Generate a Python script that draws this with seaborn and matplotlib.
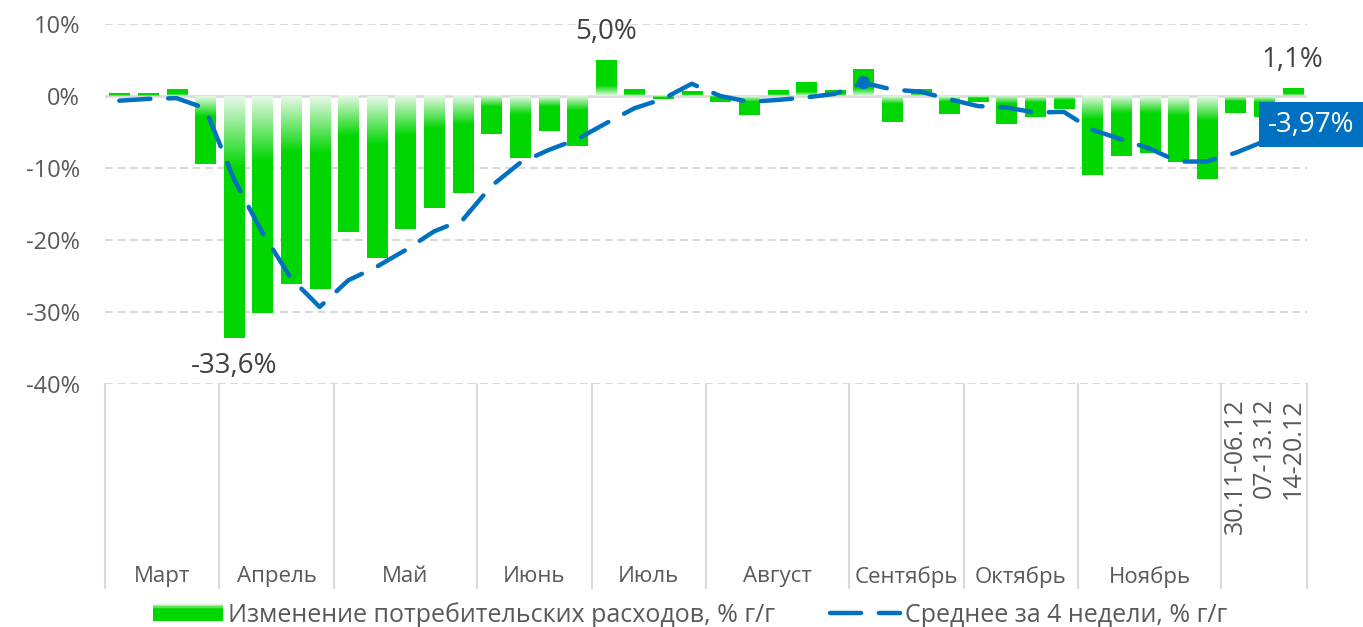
import numpy as np
import pandas as pd
import matplotlib
matplotlib.use("Agg")
import matplotlib.pyplot as plt
import matplotlib.transforms as mtransforms
from matplotlib.patches import Rectangle
from matplotlib.lines import Line2D
from matplotlib.legend_handler import HandlerBase
import seaborn as sns

# weekly change of consumer spending, % y/y
spend = [0.4, 0.3, 0.9, -9.4,
         -33.6, -30.1, -26.1, -26.8,
         -18.9, -22.5, -18.5, -15.6, -13.5,
         -5.3, -8.6, -4.8, -7.0,
         5.0, 0.9, -0.4, 0.6,
         -0.9, -2.6, 0.8, 1.9, 0.8,
         3.7, -3.6, 0.9, -2.5,
         -0.8, -3.9, -2.9, -1.8,
         -11.0, -8.4, -7.9, -9.1, -11.5,
         -2.3, -2.9, 1.1]
# 4-week average
avg4 = [-0.65, -0.4, -0.3, -1.7,
        -11.5, -19.0, -25.3, -29.3,
        -25.6, -23.7, -21.4, -18.8, -17.2,
        -12.5, -9.3, -7.5, -6.0,
        -3.8, -1.7, -0.4, 1.7,
        0.0, -0.8, -0.55, -0.2, 0.3,
        1.85, 0.9, 0.6, -0.45,
        -1.4, -1.6, -2.3, -2.2,
        -4.7, -6.0, -7.3, -9.1, -9.1,
        -7.9, -6.3, -3.97]
months = ["Март", "Апрель", "Май", "Июнь", "Июль", "Август",
          "Сентябрь", "Октябрь", "Ноябрь", ""]
weeks_in_month = [4, 4, 5, 4, 4, 5, 4, 4, 5, 3]
last_weeks = ["30.11-06.12", "07-13.12", "14-20.12"]
labelled = {4: "-33,6%", 17: "5,0%", 41: "1,1%"}
marked = 26

green = np.array([0.0, 0.84, 0.0])
pale = np.array([0.91, 0.975, 0.91])
blue = "#0070C0"
grey_txt = "#595959"
grid_c = "#D9D9D9"

sns.set_style("white")
plt.rcParams["font.family"] = ["Open Sans", "DejaVu Sans"]

idx = np.arange(len(spend))
df = pd.DataFrame({"week": idx, "spend": spend, "avg": avg4})

fig = plt.figure(figsize=(13.63, 6.27), dpi=100)
ax = fig.add_axes([105 / 1363, 243 / 627, 1202 / 1363, 360 / 627])

# grid
for v in [10, -10, -20, -30, -40]:
    ax.axhline(v, color=grid_c, lw=1.5, ls=(0, (3.8, 2.2)), zorder=0)
ax.axhline(0, color=grid_c, lw=1.8, zorder=1)

sns.barplot(data=df, x="week", y="spend", color="#00D600", saturation=1,
            width=0.7, ax=ax, zorder=2)

# gradient fill, pale near zero
for p in ax.patches:
    x0, y0 = p.get_x(), p.get_y()
    w, h = p.get_width(), p.get_height()
    s = np.linspace(0, 1, 200)
    t = np.clip(s / 0.3, 0, 1)
    cols = pale[None, :] + (green - pale)[None, :] * t[:, None]
    if h < 0:
        img = cols[:, None, :]           # row 0 at top (zero)
        ext = (x0, x0 + w, y0 + h, y0)
    else:
        img = cols[::-1][:, None, :]     # zero at bottom
        ext = (x0, x0 + w, y0, y0 + h)
    p.set_visible(False)
    ax.imshow(img, extent=ext, aspect="auto", origin="upper", zorder=2,
              interpolation="bilinear")

sns.lineplot(data=df, x="week", y="avg", color=blue, lw=3.2, ax=ax, zorder=3)
ln = ax.lines[-1]
ln.set_dashes((7, 4))
ln.set_dash_capstyle("round")
ln.set_solid_capstyle("round")
sns.scatterplot(x=[idx[marked]], y=[avg4[marked]], color=blue, s=90,
                edgecolor="none", ax=ax, zorder=4)

ax.set_xlim(-0.5, len(spend) - 0.5)
ax.set_ylim(-40, 10)
ax.set_yticks([10, 0, -10, -20, -30, -40])
ax.set_yticklabels([f"{v}%" for v in [10, 0, -10, -20, -30, -40]])
ax.tick_params(axis="y", length=0, pad=18, labelsize=17, labelcolor=grey_txt)

xt = [""] * (len(spend) - len(last_weeks)) + last_weeks
ax.set_xticks(idx)
ax.set_xticklabels(xt, rotation=90)
ax.tick_params(axis="x", length=0, pad=10, labelsize=18, labelcolor=grey_txt)
ax.set_xlabel("")
ax.set_ylabel("")
for sp in ax.spines.values():
    sp.set_visible(False)

# month separators and labels below axis
tr = mtransforms.blended_transform_factory(ax.transData, ax.transAxes)
edges = np.concatenate([[0], np.cumsum(weeks_in_month)]) - 0.5
for e in edges:
    ax.add_line(Line2D([e, e], [0, -0.567], transform=tr, color=grid_c,
                       lw=1.5, clip_on=False))
for m, a, b in zip(months, edges[:-1], edges[1:]):
    ax.text((a + b) / 2, -0.535, m, transform=tr, ha="center", va="center",
            fontsize=16, color=grey_txt)

# data labels
for i, txt in labelled.items():
    off = -20 if spend[i] < 0 else 20
    ax.annotate(txt, (idx[i], spend[i]), xytext=(0, off),
                textcoords="offset points", ha="center", va="center",
                fontsize=20, color="#404040")

ax.annotate(f"{avg4[-1]:.2f}%".replace(".", ","), (idx[-1], avg4[-1]),
            xytext=(-18, 0), textcoords="offset points", ha="left",
            va="center", fontsize=20, color="white", zorder=6,
            annotation_clip=False,
            bbox=dict(boxstyle="square,pad=0.3", fc=blue, ec="none"))


class GradHandler(HandlerBase):
    def create_artists(self, legend, orig, xd, yd, w, h, fs, trans):
        arts = []
        n = 12
        for k in range(n):
            s = k / (n - 1)
            t = min(s / 0.3, 1)
            c = pale + (green - pale) * t
            r = Rectangle((xd, yd + h - (k + 1) * h / n), w, h / n,
                          fc=c, ec="none", transform=trans)
            arts.append(r)
        return arts


h1 = Rectangle((0, 0), 1, 1)
h2 = Line2D([0], [0], color=blue, lw=3.2, dashes=(7, 4),
            dash_capstyle="round")
fig.legend([h1, h2],
           ["Изменение потребительских расходов, % г/г",
            "Среднее за 4 недели, % г/г"],
           handler_map={Rectangle: GradHandler()},
           loc="center", bbox_to_anchor=(690 / 1363, 12 / 627), ncol=2,
           frameon=False, fontsize=18, labelcolor=grey_txt,
           handlelength=2.8, handleheight=0.75, handletextpad=0.2,
           columnspacing=2.2)

fig.savefig("out.png", dpi=100)
